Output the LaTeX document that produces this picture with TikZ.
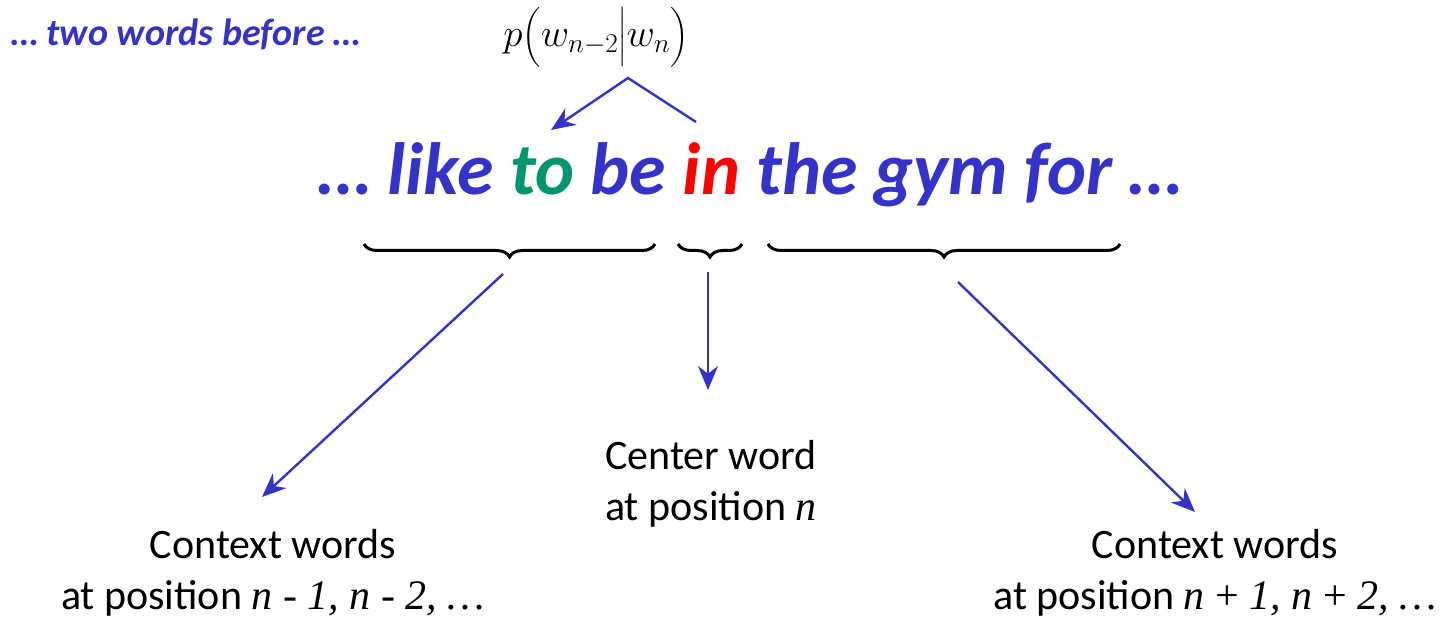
\RequirePackage{fix-cm}
\documentclass[tikz,border=0pt]{standalone}
\usepackage{exscale}
\usepackage[no-math]{fontspec}
\setmainfont{Carlito}
\newfontfamily\timesfont{Liberation Serif}
\definecolor{wordblue}{RGB}{51,51,204}
\definecolor{wordgreen}{RGB}{0,150,110}
\definecolor{wordred}{RGB}{255,0,0}
\newcommand{\probstrut}{\vcenter{\hbox{\rule{0pt}{50pt}}}}
\usetikzlibrary{arrows.meta,positioning,decorations.pathreplacing}
\tikzset{
  bluearrow/.style={draw=wordblue,line width=2.4pt,-{Stealth[length=24pt,width=20pt]}},
  wordbrace/.style={decorate,decoration={brace,mirror,amplitude=13pt},line width=3pt},
  caption/.style={font=\fontsize{42}{51}\selectfont,align=center,inner sep=0pt},
}

\begin{document}
\begin{tikzpicture}[x=1pt,y=-1pt]
    \useasboundingbox (0,0) rectangle (1450,620);
    \node[font=\fontsize{38}{38}\selectfont\bfseries\itshape\color{wordblue},
          anchor=base west,inner sep=0pt] (before) at (11,46) {… two words before …};
    \node[font=\fontsize{39}{48}\selectfont,inner sep=0pt] (prob) at (596,37)
      {$p\mathord{\left(\probstrut w_{n-2}\middle|w_n\right)}$};
    \node[font=\fontsize{74}{74}\selectfont\bfseries\itshape\color{wordblue},
          anchor=base,inner sep=0pt] (sentence) at (750,195)
      {… like \textcolor{wordgreen}{to} be \textcolor{wordred}{in} the gym for …};

    \coordinate (caretR) at (696,122);
    \coordinate (apex) at (628,78);
    \coordinate (caretL) at (551,130);
    \draw[bluearrow] (caretR) -- (apex) -- (caretL);

    \draw[wordbrace] (364,244) -- (655,244);
    \draw[wordbrace] (678,244) -- (742,244);
    \draw[wordbrace] (768,244) -- (1120,244);

    \node[caption] (center) at (711,484) {Center word\\at position {\timesfont\itshape n}};
    \node[caption] (leftctx) at (273,573)
      {Context words\\at position {\timesfont\itshape n - 1, n - 2, …}};
    \node[caption] (rightctx) at (1215,573)
      {Context words\\at position {\timesfont\itshape n \upshape+ \itshape 1, n \upshape+ \itshape 2, …}};

    \coordinate (lefttip) at (503,274);
    \coordinate (leftend) at (262,497);
    \coordinate (midtip) at (708,272);
    \coordinate (midend) at (708,390);
    \coordinate (righttip) at (958,282);
    \coordinate (rightend) at (1195,512);
    \draw[bluearrow] (lefttip) -- (leftend);
    \draw[bluearrow] (midtip) -- (midend);
    \draw[bluearrow] (righttip) -- (rightend);
\end{tikzpicture}
\end{document}
